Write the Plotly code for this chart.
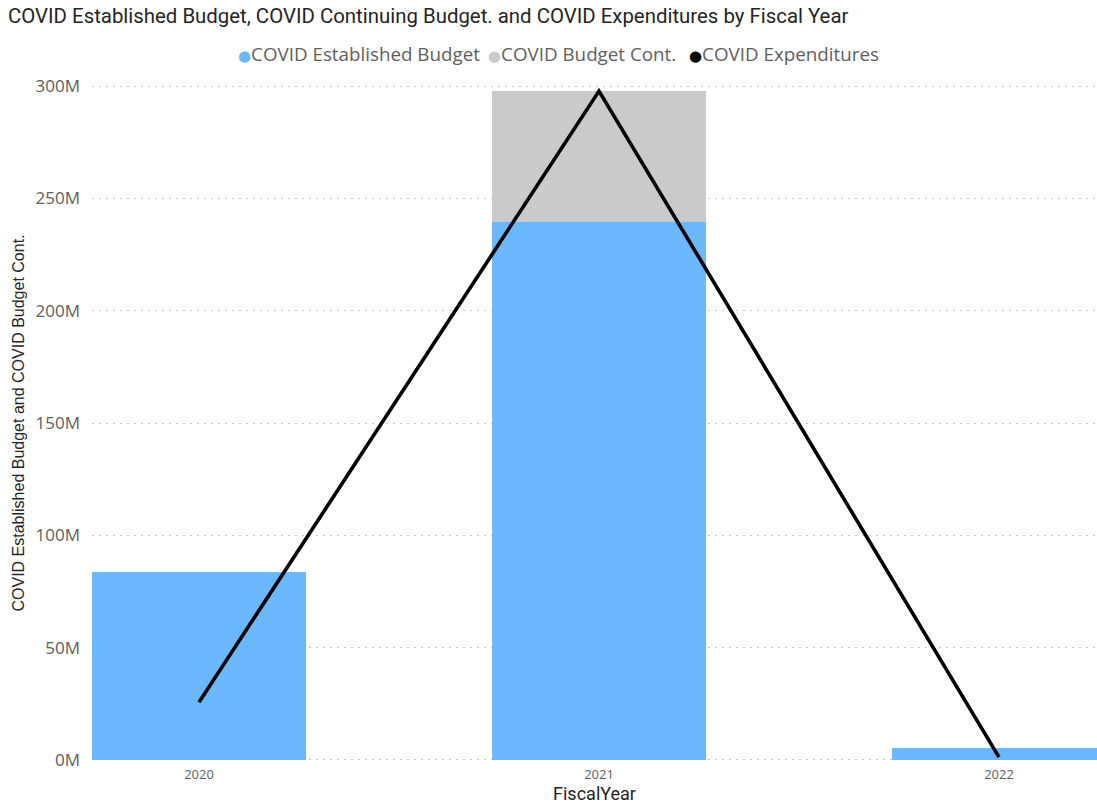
import plotly.graph_objects as go

years = ["2020", "2021", "2022"]
established = [83.5e6, 239.7e6, 5.5e6]
continuing = [0, 58.1e6, 0]
expenditures = [25.7e6, 297.8e6, 1.2e6]
y_ticks = [0, 50e6, 100e6, 150e6, 200e6, 250e6, 300e6]
y_tick_labels = ["0M", "50M", "100M", "150M", "200M", "250M", "300M"]
series_names = ["COVID Established Budget", "COVID Budget Cont.", "COVID Expenditures"]

blue = "#6CB8FF"
grey = "#CACACA"
series_colors = [blue, grey, "#000000"]
fnt = "Open Sans"

fig = go.Figure()
fig.add_trace(go.Bar(x=years, y=established, marker_color=blue, width=0.533,
                     marker_line_width=0, showlegend=False, name=series_names[0]))
fig.add_trace(go.Bar(x=years, y=continuing, marker_color=grey, width=0.533,
                     marker_line_width=0, showlegend=False, name=series_names[1]))
fig.add_trace(go.Scatter(x=years, y=expenditures, mode="lines",
                         line=dict(color="black", width=3.6),
                         showlegend=False, name=series_names[2]))

# legend drawn as text items (circle marker + label)
legend_x = [0.1435, 0.392, 0.5925]
for nm, c, lx in zip(series_names, series_colors, legend_x):
    fig.add_annotation(
        text=f"<span style='color:{c}; font-family:DejaVu Sans; font-size:15px'>●</span>{nm}",
        xref="paper", yref="paper", x=lx, y=1.0459, xanchor="left", yanchor="middle",
        showarrow=False, font=dict(family=fnt, size=18.8, color="#605E5C"))

fig.update_layout(
    width=1097, height=806,
    barmode="stack",
    plot_bgcolor="white", paper_bgcolor="white",
    margin=dict(l=92, r=0, t=85, b=45),
    title=dict(text="COVID Established Budget, COVID Continuing Budget. and COVID Expenditures by Fiscal Year",
               xref="container", yref="container",
               x=0.0073, xanchor="left", y=0.98, yanchor="middle", pad=dict(l=0, t=0),
               font=dict(family="Roboto", size=20.4, color="#252423")),
    showlegend=False,
    xaxis=dict(type="category", range=[-0.2675, 2.245],
               title=dict(text="FiscalYear", font=dict(family="Roboto", size=18, color="#252423"), standoff=5),
               tickfont=dict(family=fnt, size=13, color="#605E5C"),
               showgrid=False, showline=False, ticks="", ticklabelstandoff=4),
    yaxis=dict(range=[-0.5e6, 300.5e6], tickvals=y_ticks, ticktext=y_tick_labels,
               title=dict(text="COVID Established Budget and COVID Budget Cont.",
                          font=dict(family="Liberation Sans", size=16, color="#252423"), standoff=6),
               tickfont=dict(family=fnt, size=17, color="#605E5C"),
               showgrid=True, gridcolor="#C8C8C8", griddash="2px,5px", gridwidth=1,
               zeroline=False, ticks="", ticklabelstandoff=11, automargin=False),
)

fig.write_html("out.html", config={"displayModeBar": False},
               post_script="document.body.style.margin='0';document.body.style.overflow='hidden';")
